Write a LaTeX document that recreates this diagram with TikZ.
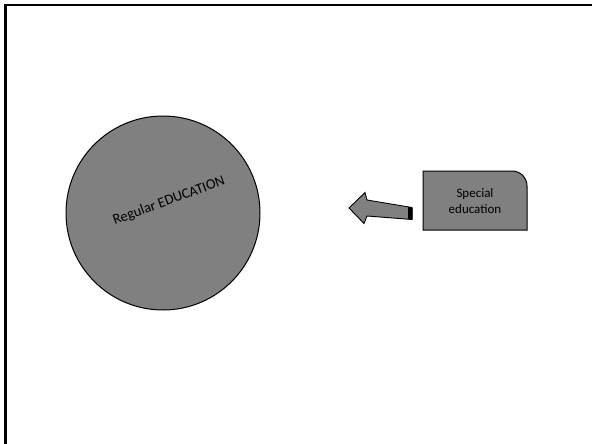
\documentclass[tikz,border=0pt]{standalone}
\usepackage{fontspec}
\setmainfont{Carlito}
\usepackage{tikz}
\usetikzlibrary{positioning}

\begin{document}
\begin{tikzpicture}[x=1pt,y=-1pt,
  shade/.style={draw=black,fill=gray,line width=1pt},
  lbl/.style={font=\fontsize{13}{16}\selectfont,align=center,inner sep=0pt}]
  \useasboundingbox (0,0) rectangle (592,444);
  % frame
  \draw[gray!60,line width=1pt] (4,5) -- (4,444);
  \draw[line width=2.2pt] (592,4.7) -- (5.5,4.7) -- (5.5,444);

  % big circle
  \node[shade,circle,minimum size=194pt,inner sep=0pt] (edu) at (163,213) {};
  \node[lbl,rotate=20,font=\fontsize{14.5}{17}\selectfont] (edulbl) at (169,201) {Regular EDUCATION};

  % box with one round corner
  \draw[shade] (423,230) -- (423,171) -- (512,171) to[out=0,in=90] (527,186) -- (527,230) -- cycle;
  \node[lbl] (spec) at (475,201) {Special\\education};

  % block arrow
  \draw[shade,line width=0.9pt,line join=miter] (349,208) -- (365,192.5) -- (367,200) -- (412,207.5)
    -- (412,219.5) -- (367,216) -- (364,223.5) -- cycle;
  \fill[black] (408,207) -- (412.5,207.6) -- (412.5,219.6) -- (408,219.2) -- cycle;
\end{tikzpicture}
\end{document}
